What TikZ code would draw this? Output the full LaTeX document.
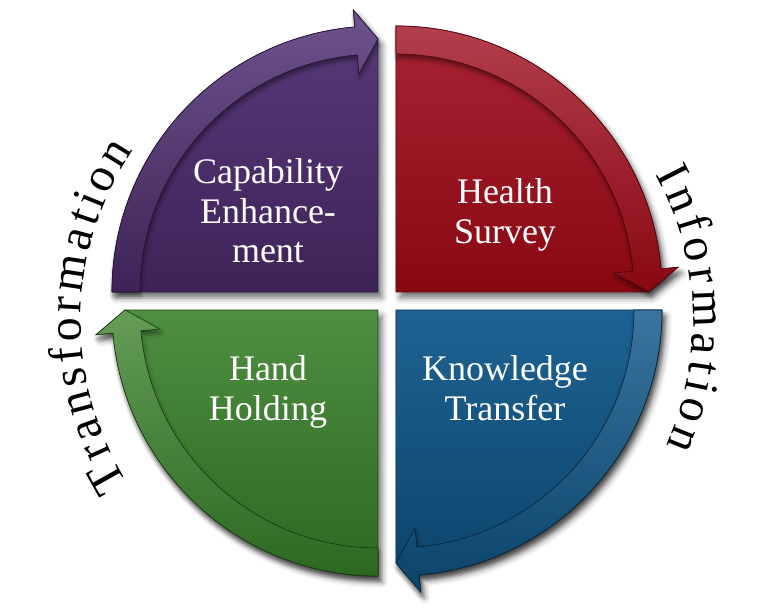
\documentclass[tikz,border=0pt]{standalone}
\usepackage{fontspec}
\setmainfont{Liberation Serif}
\usetikzlibrary{decorations.text,shadows.blur}

\definecolor{purpleA}{HTML}{5A3A7C}
\definecolor{purpleB}{HTML}{3E2357}
\definecolor{redA}{HTML}{A82333}
\definecolor{redB}{HTML}{880812}
\definecolor{blueA}{HTML}{1E6292}
\definecolor{blueB}{HTML}{0B4369}
\definecolor{greenA}{HTML}{4F8F41}
\definecolor{greenB}{HTML}{2D6822}

\newcommand{\ringfont}{\fontsize{48}{52}\selectfont}

\newcommand{\quarter}[4]{%
  \begin{scope}[shift={#1}]
    \path[quarter body, top color=#3, bottom color=#4, draw=#4!75!black]
      (0,0) -- (#2:266) arc[start angle=#2, end angle=#2-85, radius=266]
      -- (#2-85:283) -- (#2-90:253) -- cycle;
    \path[quarter band, top color=#3!88!white, bottom color=#4, draw=#4!55!black]
      (#2:266) arc[start angle=#2, end angle=#2-85, radius=266]
      -- (#2-85:283) -- (#2-90:253) -- (#2-85:219) -- (#2-85:238)
      arc[start angle=#2-85, end angle=#2, radius=238] -- cycle;
  \end{scope}}

\begin{document}
\begin{tikzpicture}[x=1pt,y=1pt,
  quarter body/.style={line width=.8pt,
    blur shadow={shadow xshift=4pt, shadow yshift=-6pt, shadow opacity=55, shadow blur radius=6pt}},
  quarter band/.style={line width=.6pt,
    blur shadow={shadow xshift=1pt, shadow yshift=-4pt, shadow opacity=45, shadow blur radius=4pt}},
  inlabel/.style={text=white, align=center, font=\fontsize{36}{39.5}\selectfont},
  ringtext/.style={decorate, decoration={text along path, text align={fit to path}}}]
  \useasboundingbox (-387,-311) rectangle (395,301);

  \quarter{(-9,9)}{180}{purpleA}{purpleB}
  \quarter{(9,9)}{90}{redA}{redB}
  \quarter{(9,-9)}{0}{blueA}{blueB}
  \quarter{(-9,-9)}{-90}{greenA}{greenB}

  \node[inlabel] (capab) at (-119,90) {Capability\\Enhance-\\ment};
  \node[inlabel] (health) at (118,86) {Health\\Survey};
  \node[inlabel] (knowl) at (118,-87) {Knowledge\\Transfer};
  \node[inlabel] (hand) at (-119,-91) {Hand\\Holding};

  \path[shift={(0,-20)}, ringtext, decoration={text={|\ringfont|Transformation}}]
    (212:306) arc[start angle=212, end angle=146, radius=306];
  \path[shift={(0,-20)}, ringtext, decoration={text={|\ringfont|Information}}]
    (28.5:306) arc[start angle=28.5, end angle=-24, radius=306];
\end{tikzpicture}
\end{document}
